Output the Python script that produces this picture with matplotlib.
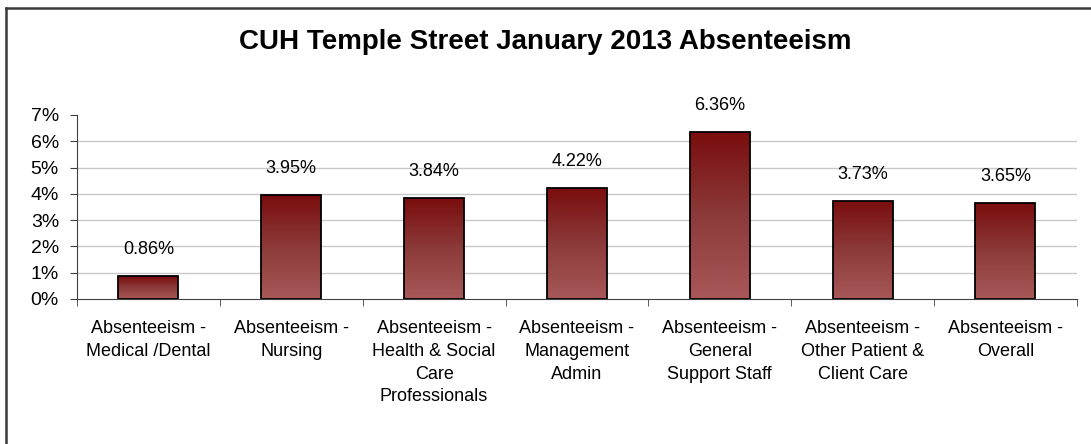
import matplotlib
matplotlib.use('Agg')
import matplotlib.pyplot as plt
from matplotlib.colors import LinearSegmentedColormap
from matplotlib.lines import Line2D
import numpy as np

plt.rcParams['font.family'] = ['Liberation Sans', 'DejaVu Sans']

# Data
categories = ['Absenteeism -\nMedical /Dental', 'Absenteeism -\nNursing',
              'Absenteeism -\nHealth & Social\nCare\nProfessionals',
              'Absenteeism -\nManagement\nAdmin', 'Absenteeism -\nGeneral\nSupport Staff',
              'Absenteeism -\nOther Patient &\nClient Care', 'Absenteeism -\nOverall']
values = [0.86, 3.95, 3.84, 4.22, 6.36, 3.73, 3.65]
yticks = [0, 1, 2, 3, 4, 5, 6, 7]

fig = plt.figure(figsize=(10.91, 4.44), dpi=100)
ax = fig.add_axes([0.0706, 0.3266, 0.9164, 0.4144])

# Outer frame (left and top only, like the reference)
fig.add_artist(Line2D([0.0055, 0.0055], [0, 0.983], color='#3a3a3a', lw=1.8))
fig.add_artist(Line2D([0.0055, 1.0], [0.983, 0.983], color='#3a3a3a', lw=1.8))

fig.text(0.5, 0.905, 'CUH Temple Street January 2013 Absenteeism',
         ha='center', va='center', fontsize=20, fontweight='bold')

x = np.arange(len(values))
cmap = LinearSegmentedColormap.from_list('bar', ['#a85858', '#8c3a3a', '#7a0d0d'])
grad = np.linspace(0, 1, 256).reshape(-1, 1)

bars = ax.bar(x, values, width=0.42, color='none', edgecolor='black', linewidth=1.3, zorder=3)
for b, v in zip(bars, values):
    x0 = b.get_x()
    im = ax.imshow(grad, extent=[x0, x0 + b.get_width(), 0, v], origin='lower',
                   aspect='auto', cmap=cmap, zorder=2)
    im.set_clip_path(b)
    ax.annotate('%.2f%%' % v, (b.get_x() + b.get_width() / 2, v),
                xytext=(0, 13), textcoords='offset points', ha='center', va='bottom', fontsize=13)

ax.set_xlim(-0.5, len(values) - 0.5)
ax.set_ylim(0, 7)
ax.set_yticks(yticks)
ax.set_yticklabels(['%d%%' % t for t in yticks], fontsize=14)
ax.set_xticks(x)
ax.set_xticklabels(categories, fontsize=13, linespacing=1.45)
ax.set_xticks(np.arange(-0.5, len(values)), minor=True)
ax.tick_params(axis='x', which='major', length=0, pad=15)
ax.tick_params(axis='x', which='minor', length=5, color='#404040')
ax.tick_params(axis='y', length=5, color='#404040', pad=8)

for t in yticks[1:-1]:
    ax.axhline(t, color='#c8c8c8', lw=1, zorder=1)

for s in ['top', 'right']:
    ax.spines[s].set_visible(False)
ax.spines['left'].set_color('#404040')
ax.spines['bottom'].set_color('#404040')

fig.savefig('out.png', dpi=100)
